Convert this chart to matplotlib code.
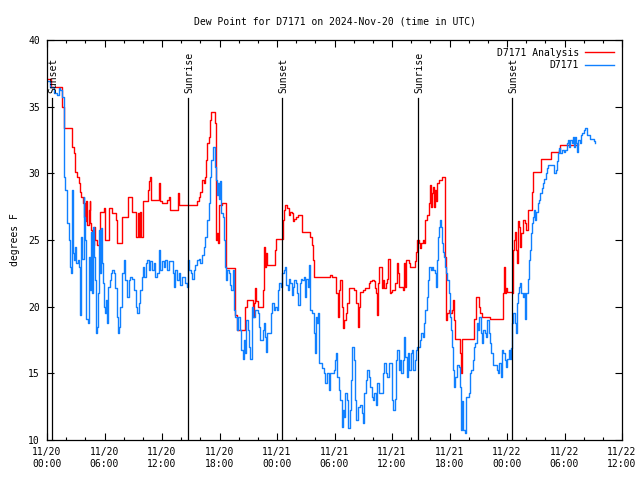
import matplotlib
matplotlib.use("Agg")
import matplotlib.pyplot as plt
from matplotlib.ticker import MultipleLocator
import matplotlib.transforms as mtransforms

# hours since 2024-11-20 00:00 UTC
red_hours = [0.00, 0.42, 1.57, 1.74, 2.61, 2.85, 2.96, 3.13, 3.30, 3.41, 3.58, 3.76, 4.00, 4.07, 4.17,
             4.35, 4.45, 4.52, 4.63, 4.73, 4.87, 5.04, 5.22, 5.50, 5.91, 6.02, 6.43, 6.78, 7.20, 7.30,
             7.83, 8.45, 8.87, 9.32, 9.46, 9.57, 9.74, 9.84, 9.98, 10.54, 10.68, 10.78, 10.89, 11.72, 11.83,
             12.00, 12.52, 12.70, 12.87, 13.67, 13.74, 15.65, 15.83, 16.00, 16.17, 16.35, 16.45, 16.59, 16.73,
             16.87, 17.04, 17.15, 17.57, 17.63, 17.74, 17.84, 17.98, 18.26, 18.71, 19.65, 19.83, 20.70, 20.87,
             21.46, 21.57, 21.74, 21.84, 22.02, 22.54, 22.68, 22.78, 22.89, 22.99, 23.76, 23.90,
             24.00, 24.59, 24.70, 24.87, 25.04, 25.22, 25.39, 25.57, 25.67, 25.81, 26.02, 26.16, 26.61, 27.48,
             27.65, 27.76, 27.90, 29.57, 29.74, 30.19, 30.33, 30.47, 30.61, 30.75, 30.89, 31.03, 31.20, 31.34,
             31.48, 32.00, 32.28, 32.42, 32.52, 32.70, 32.97, 33.22, 33.57, 33.74, 33.91, 34.09, 34.19, 34.30,
             34.40, 34.50, 34.61, 34.96, 35.06, 35.20, 35.34, 35.48, 35.62, 35.76, 35.90,
             36.00, 36.35, 36.52, 36.63, 36.77, 37.11, 37.25, 37.39, 37.50, 37.74, 37.91, 38.43, 38.54, 38.64,
             38.78, 38.96, 39.06, 39.20, 39.34, 39.48, 39.65, 39.83, 39.97, 40.07, 40.17, 40.31, 40.42, 40.52,
             40.63, 40.73, 40.87, 41.22, 41.50, 41.57, 41.67, 41.77, 41.91, 42.09, 42.26, 42.37, 42.50, 42.61,
             43.06, 43.17, 43.27, 44.52, 44.80, 45.11, 45.22, 45.39, 46.26, 47.58, 47.69, 47.83, 47.93,
             48.00, 48.52, 48.59, 48.70, 48.80, 48.94, 49.08, 49.18, 49.29, 49.39, 49.50, 49.63, 49.91, 50.02,
             50.16, 50.57, 50.71, 51.58, 52.59, 53.39, 53.57, 55.44]
red_vals = [37.1, 36.5, 35.0, 33.4, 32.0, 31.5, 30.1, 29.75, 29.25, 28.6, 28.25, 27.75, 26.4, 27.9, 26.1,
            27.25, 27.9, 26.25, 25.75, 24.6, 26.0, 25.0, 24.6, 27.1, 27.4, 25.0, 27.4, 27.0, 26.5, 24.75,
            26.75, 28.25, 27.1, 25.25, 27.0, 25.25, 27.1, 25.25, 27.9, 28.75, 29.4, 29.75, 28.0, 29.25, 27.9,
            27.8, 28.0, 28.25, 27.25, 28.5, 27.6, 27.9, 28.25, 28.6, 29.5, 29.25, 29.75, 31.0, 32.25,
            32.75, 34.0, 34.6, 33.75, 25.0, 25.5, 24.75, 27.6, 27.75, 22.9, 19.4, 18.25, 20.0, 20.5,
            19.25, 20.25, 21.4, 20.4, 20.0, 21.25, 24.5, 23.0, 24.0, 23.1, 24.25, 25.1,
            25.1, 26.5, 27.25, 27.6, 27.4, 26.9, 27.1, 27.0, 26.4, 26.6, 26.75, 26.9, 25.6, 25.25,
            24.6, 23.5, 22.2, 22.4, 22.2, 21.0, 19.25, 21.25, 22.0, 20.0, 18.4, 19.0, 19.5, 20.25,
            21.4, 21.25, 20.25, 18.5, 20.0, 21.1, 21.25, 21.4, 21.75, 21.9, 22.0, 21.9, 21.4, 21.0,
            19.4, 21.75, 23.0, 21.4, 22.0, 21.4, 21.75, 22.1, 23.6, 21.0, 21.1,
            21.25, 21.75, 23.25, 22.5, 21.5, 21.25, 23.25, 21.5, 23.5, 23.25, 23.0, 23.4, 24.1, 25.0,
            24.75, 24.4, 24.75, 25.0, 24.75, 26.5, 26.9, 27.75, 29.1, 27.5, 28.5, 29.0, 27.5, 28.75,
            27.9, 29.25, 29.5, 29.75, 29.0, 23.75, 19.0, 19.5, 19.75, 19.5, 19.75, 20.5, 19.0, 17.6,
            16.5, 15.0, 17.6, 19.1, 20.75, 20.0, 19.5, 19.25, 19.1, 21.0, 23.0, 21.0, 21.4,
            21.1, 21.0, 24.25, 25.0, 25.6, 24.25, 23.25, 26.4, 26.0, 24.5, 25.5, 26.5, 26.25, 25.75,
            27.25, 28.6, 30.1, 31.1, 31.6, 31.75, 32.1, 32.2]

blue_hours = [0.00, 0.35, 0.70, 1.04, 1.22, 1.39, 1.57, 1.74, 1.81, 1.91, 2.09, 2.26, 2.43, 2.54, 2.61,
              2.71, 2.85, 2.96, 3.06, 3.20, 3.30, 3.41, 3.48, 3.58, 3.69, 3.83, 3.90, 4.00, 4.10, 4.24,
              4.35, 4.45, 4.59, 4.66, 4.77, 4.87, 4.97, 5.08, 5.22, 5.32, 5.43, 5.57, 5.67, 5.77, 5.88,
              5.98, 6.09, 6.19, 6.30, 6.40, 6.54, 6.68, 6.82, 6.96, 7.13, 7.30, 7.41, 7.55, 7.65, 7.83,
              8.00, 8.17, 8.35, 8.52, 8.70, 8.87, 9.11, 9.25, 9.39, 9.57, 9.74, 9.91, 10.02, 10.16, 10.30,
              10.43, 10.61, 10.78, 10.96, 11.13, 11.30, 11.48, 11.65, 11.83,
              12.00, 12.17, 12.35, 12.52, 12.70, 13.15, 13.25, 13.39, 13.57, 13.74, 13.91, 14.09, 14.43,
              14.57, 14.71, 14.85, 14.99, 15.13, 15.30, 15.48, 15.65, 15.83, 16.00, 16.17, 16.35, 16.52,
              16.70, 16.87, 17.04, 17.15, 17.29, 17.50, 17.63, 17.74, 17.84, 17.98, 18.09, 18.19, 18.33,
              18.43, 18.54, 18.68, 18.82, 18.96, 19.10, 19.23, 19.37, 19.51, 19.65, 19.79, 19.93, 20.10,
              20.28, 20.42, 20.56, 20.70, 20.80, 20.97, 21.11, 21.22, 21.39, 21.53, 21.67, 21.98, 22.09,
              22.19, 22.54, 22.68, 22.78, 22.89, 22.99, 23.34, 23.48, 23.65, 23.83,
              24.00, 24.10, 24.24, 24.42, 24.56, 24.70, 24.83, 24.97, 25.11, 25.25, 25.39, 25.53, 25.67,
              25.81, 25.95, 26.09, 26.23, 26.37, 26.50, 26.64, 26.78, 26.92, 27.06, 27.20, 27.34, 27.48,
              27.65, 27.83, 27.93, 28.03, 28.17, 28.28, 28.38, 28.70, 28.87, 29.04, 29.22, 29.39, 29.57,
              29.91, 30.02, 30.16, 30.26, 30.43, 30.61, 30.75, 30.89, 31.03, 31.13, 31.30, 31.44, 31.58,
              31.72, 31.86, 32.00, 32.14, 32.28, 32.42, 32.70, 32.83, 32.97, 33.11, 33.25, 33.39, 33.57,
              33.74, 33.88, 34.02, 34.16, 34.30, 34.43, 34.61, 34.96, 35.06, 35.20, 35.34, 35.48, 35.65,
              35.83,
              36.00, 36.10, 36.28, 36.42, 36.56, 36.70, 36.83, 36.97, 37.11, 37.25, 37.39, 37.53, 37.67,
              37.81, 37.95, 38.09, 38.23, 38.37, 38.50, 38.64, 38.92, 39.06, 39.20, 39.34, 39.48, 39.62,
              39.76, 39.90, 40.03, 40.17, 40.31, 40.45, 40.59, 40.70, 40.80, 40.94, 41.04, 41.15, 41.22,
              41.32, 41.43, 41.53, 41.63, 41.77, 41.91, 42.02, 42.16, 42.26, 42.37, 42.50, 42.61, 42.78,
              42.96, 43.06, 43.17, 43.30, 43.44, 43.58, 43.72, 44.00, 44.14, 44.28, 44.42, 44.56, 44.70,
              44.83, 44.97, 45.11, 45.25, 45.39, 45.53, 45.67, 45.81, 45.95, 46.09, 46.23, 46.37, 46.50,
              46.92, 47.06, 47.20, 47.34, 47.48, 47.62, 47.76, 47.90,
              48.00, 48.17, 48.35, 48.45, 48.56, 48.66, 48.80, 48.94, 49.04, 49.15, 49.29, 49.39, 49.50,
              49.63, 49.74, 49.84, 49.91, 50.02, 50.16, 50.26, 50.40, 50.50, 50.61, 50.71, 50.85, 50.96,
              51.06, 51.20, 51.34, 51.48, 51.62, 51.76, 51.90, 52.03, 52.17, 52.31, 52.80, 52.94, 53.08,
              53.22, 53.32, 53.46, 53.57, 53.74, 53.91, 54.09, 54.26, 54.40, 54.50, 54.61, 54.75, 54.85,
              54.96, 55.10, 55.20, 55.30, 55.44, 55.58, 55.69, 55.83, 56.00, 56.17, 56.35, 56.70, 57.04,
              57.22]
blue_vals = [36.9, 36.5, 36.0, 35.9, 36.4, 36.25, 35.75, 35.5, 29.75, 28.75, 26.25, 25.0, 23.0, 22.5, 28.75,
             24.0, 23.5, 24.5, 23.25, 23.5, 23.0, 21.0, 19.4, 25.25, 23.6, 28.25, 26.75, 25.0, 19.1, 18.75,
             23.75, 21.25, 25.6, 21.0, 26.0, 23.75, 22.0, 18.0, 18.5, 21.0, 25.75, 22.5, 25.9, 23.25, 21.75,
             20.0, 19.5, 20.5, 18.75, 21.5, 22.0, 22.5, 22.75, 22.5, 21.4, 19.25, 18.0, 18.5, 20.0, 22.5,
             23.5, 22.0, 20.75, 22.0, 22.25, 22.1, 21.25, 20.0, 19.5, 20.25, 21.25, 22.25, 23.0, 22.25, 23.25,
             23.5, 22.75, 23.4, 22.75, 23.25, 22.25, 22.5, 24.25, 22.75,
             23.4, 23.0, 23.5, 22.75, 23.4, 22.5, 21.5, 22.75, 22.0, 22.5, 21.6, 22.25, 21.75,
             21.5, 23.5, 22.75, 22.5, 22.1, 22.75, 23.1, 23.5, 23.6, 23.25, 23.9, 24.5, 25.25,
             26.5, 27.75, 29.75, 31.0, 32.0, 30.5, 29.5, 28.4, 29.25, 28.1, 29.4, 27.0, 26.75,
             25.0, 23.0, 22.0, 22.75, 22.5, 21.6, 21.25, 22.75, 19.75, 19.25, 18.25, 19.25, 18.25,
             16.75, 16.1, 17.5, 16.5, 19.0, 18.25, 17.0, 16.1, 20.0, 19.25, 19.75, 19.5, 18.5,
             17.5, 18.25, 18.75, 17.75, 16.6, 18.0, 19.5, 20.25, 19.75, 20.0,
             19.75, 21.25, 21.75, 21.5, 22.5, 22.75, 23.0, 21.6, 21.25, 22.1, 21.75, 20.9, 21.5,
             22.0, 21.75, 21.0, 20.1, 21.75, 22.1, 22.0, 22.25, 20.75, 22.1, 21.5, 23.1, 19.75,
             19.5, 18.0, 16.5, 19.25, 18.75, 19.5, 15.75, 15.4, 15.0, 14.25, 15.0, 13.75, 15.0,
             15.25, 16.0, 16.5, 14.75, 13.75, 13.0, 11.0, 12.25, 11.75, 13.5, 13.0, 10.9, 12.25,
             14.5, 17.0, 16.0, 13.0, 11.5, 12.5, 12.6, 12.0, 11.25, 13.5, 14.5, 15.25, 14.75,
             14.0, 13.25, 13.0, 13.5, 12.6, 14.25, 13.5, 13.5, 15.0, 15.75, 15.0, 14.75, 15.75,
             15.75,
             13.0, 12.25, 13.1, 16.0, 16.75, 15.25, 16.0, 15.0, 16.0, 17.75, 16.25, 14.75, 16.5,
             15.25, 16.5, 16.75, 15.25, 16.0, 16.75, 17.0, 17.5, 18.0, 17.75, 18.75, 19.75, 20.75,
             22.0, 23.0, 22.75, 23.0, 22.75, 22.5, 21.5, 23.5, 25.25, 26.0, 26.5, 26.0, 24.75,
             24.1, 23.75, 23.0, 22.5, 22.0, 21.0, 19.25, 18.25, 17.0, 15.25, 14.0, 14.75, 15.6,
             15.5, 14.0, 10.75, 12.9, 10.75, 10.5, 13.25, 13.5, 15.0, 15.25, 16.0, 17.0, 17.25,
             18.75, 18.25, 19.25, 18.0, 17.25, 18.25, 18.0, 17.75, 19.0, 18.0, 17.25, 16.5, 15.6,
             15.25, 15.0, 15.75, 14.75, 16.75, 16.5, 16.0, 15.5,
             16.1, 16.75, 16.1, 16.9, 18.75, 19.5, 18.75, 18.0, 20.25, 21.0, 21.5, 21.75, 21.0,
             20.75, 21.0, 20.0, 19.1, 21.0, 22.1, 23.5, 24.25, 25.5, 26.25, 26.75, 27.25, 26.5,
             27.1, 27.75, 28.0, 28.5, 28.9, 29.25, 29.6, 30.0, 30.4, 30.6, 30.6, 30.0, 30.25,
             30.9, 31.5, 31.9, 31.5, 31.75, 31.6, 31.75, 32.25, 32.5, 32.0, 32.5, 32.25, 32.75,
             32.0, 32.75, 32.25, 31.6, 32.5, 32.25, 32.9, 33.0, 33.25, 33.4, 32.9, 32.6, 32.4,
             32.25]

sun_hours = [0.55, 14.75, 24.56, 38.75, 48.57]
sun_labels = ["Sunset", "Sunrise", "Sunset", "Sunrise", "Sunset"]

tick_hours = [0, 6, 12, 18, 24, 30, 36, 42, 48, 54, 60]
tick_labels = ["11/20\n00:00", "11/20\n06:00", "11/20\n12:00", "11/20\n18:00",
               "11/21\n00:00", "11/21\n06:00", "11/21\n12:00", "11/21\n18:00",
               "11/22\n00:00", "11/22\n06:00", "11/22\n12:00"]

plt.rcParams['font.family'] = 'DejaVu Sans Mono'
plt.rcParams['font.size'] = 7

fig = plt.figure(figsize=(6.4, 4.8), dpi=100)
ax = fig.add_axes([47 / 640, 40 / 480, 575 / 640, 400 / 480])

ax.plot(red_hours, red_vals, color='#ff0000', lw=1.0, drawstyle='steps-post', label='D7171 Analysis')
ax.plot(blue_hours, blue_vals, color='#1080ff', lw=1.0, drawstyle='steps-post', label='D7171')

trans = mtransforms.blended_transform_factory(ax.transData, ax.transAxes)
for h, lab in zip(sun_hours, sun_labels):
    ax.plot([h, h], [0, 0.855], color='black', lw=0.9, transform=trans)
    ax.text(h + 0.1, 0.868, lab, rotation=90, ha='center', va='bottom', transform=trans, fontsize=7)

ax.set_xlim(0, 60)
ax.set_ylim(10, 40)
ax.set_xticks(tick_hours)
ax.set_xticklabels(tick_labels)
ax.xaxis.set_minor_locator(MultipleLocator(2))
ax.yaxis.set_major_locator(MultipleLocator(5))
ax.tick_params(which='both', direction='in', top=True, right=True, width=0.8)
ax.tick_params(which='major', length=5, pad=5)
ax.tick_params(which='minor', length=2.5)
for s in ax.spines.values():
    s.set_linewidth(0.9)

ax.set_ylabel('degrees F', labelpad=6)
ax.set_title('Dew Point for D7171 on 2024-Nov-20 (time in UTC)', fontsize=7, pad=11)
ax.legend(loc='upper right', frameon=False, markerfirst=False, handlelength=3.0,
          borderaxespad=0.6, borderpad=0.2, labelspacing=0.25, handletextpad=0.6)

fig.savefig('out.png', dpi=100)
